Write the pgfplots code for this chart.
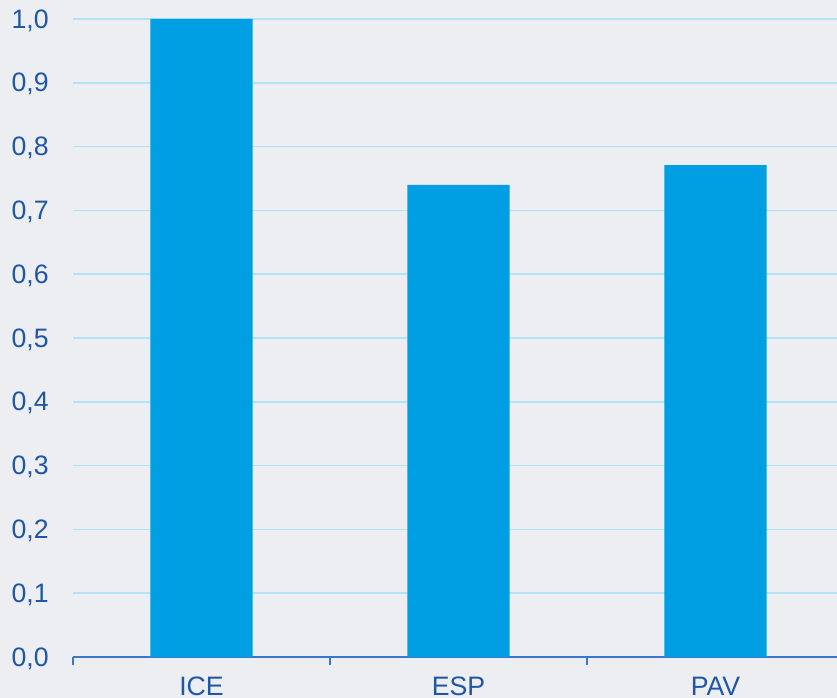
\documentclass[border=0pt]{standalone}
\usepackage{pgfplots}
\pgfplotsset{compat=1.18}
\usepackage{fontspec}
\setmainfont{Liberation Sans}
\definecolor{bgcol}{RGB}{236,238,241}
\definecolor{barcol}{RGB}{0,159,227}
\definecolor{gridcol}{RGB}{178,226,245}
\definecolor{txtcol}{RGB}{31,86,166}
\definecolor{axcol}{RGB}{60,120,200}
\begin{document}
\begin{tikzpicture}
  % page background: 837x698 px at 0.75pt/px
  \fill[bgcol] (-54.75pt,-30.75pt) rectangle (573pt,492.75pt);
  \begin{axis}[
      at={(0,0)}, anchor=south west,
      scale only axis,
      width=573pt, height=478.5pt,
      ybar, bar width=0.397,
      xmin=-0.5, xmax=2.4728,
      ymin=0, ymax=1.0,
      axis y line*=left,
      axis x line*=bottom,
      y axis line style={draw=none},
      x axis line style={axcol, line width=0.9pt, -},
      xtick={0,1,2},
      xticklabels={ICE,ESP,PAV},
      xtick style={draw=axcol, line width=0.9pt},
      xtick align=outside,
      major tick length=0pt,
      extra x ticks={-0.5,0.5,1.5},
      extra x tick labels={},
      extra x tick style={major tick length=6pt, grid=none},
      ytick={0,0.1,...,1.0},
      ytick style={draw=none},
      ymajorgrids,
      major grid style={gridcol, line width=1.2pt},
      /pgf/number format/fixed,
      /pgf/number format/fixed zerofill,
      /pgf/number format/precision=1,
      /pgf/number format/use comma,
      /pgf/number format/assume math mode=true,
      yticklabel style={anchor=base east, inner sep=0pt, xshift=-18pt, yshift=-6.8pt},
      xticklabel style={anchor=north, inner sep=0pt, yshift=-14.8pt},
      ticklabel style={font=\fontsize{20}{23}\selectfont, text=txtcol},
      clip=false,
    ]
    \addplot[fill=barcol, draw=none] coordinates {(0,1.0) (1,0.74) (2,0.771)};
  \end{axis}
  \pgfresetboundingbox
  \path[use as bounding box] (-54.75pt,-30.75pt) rectangle (573pt,492.75pt);
\end{tikzpicture}
\end{document}
